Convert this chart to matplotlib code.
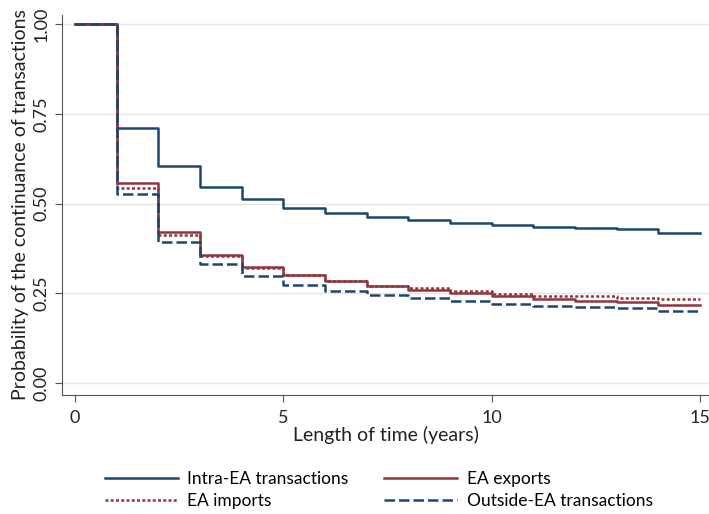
import numpy as np
import matplotlib.pyplot as plt

plt.rcParams['font.family'] = ['Lato', 'DejaVu Sans']

years = list(range(0, 16))

# survival estimates (value held from year t to t+1)
intra_ea = [1.0, 0.711, 0.605, 0.546, 0.513, 0.489, 0.475, 0.463, 0.454, 0.446,
            0.441, 0.436, 0.433, 0.428, 0.419, 0.419]
ea_exports = [1.0, 0.557, 0.421, 0.357, 0.324, 0.301, 0.284, 0.271, 0.259, 0.251,
              0.242, 0.234, 0.229, 0.225, 0.217, 0.217]
ea_imports = [1.0, 0.542, 0.413, 0.353, 0.321, 0.301, 0.284, 0.271, 0.265, 0.256,
              0.248, 0.244, 0.242, 0.238, 0.233, 0.233]
outside_ea = [1.0, 0.528, 0.392, 0.331, 0.297, 0.274, 0.256, 0.245, 0.236, 0.229,
              0.220, 0.214, 0.211, 0.209, 0.202, 0.202]

navy = '#1a476f'
maroon = '#90353b'

W, H = 709, 514
fig = plt.figure(figsize=(W / 100, H / 100), dpi=100)
# axes box in pixels: x 62..709, y 15..395
ax = fig.add_axes([62 / W, (H - 395) / H, (W - 62) / W, 380 / H])

lw = 1.8
l1, = ax.plot(years, intra_ea, drawstyle='steps-post', color=navy, lw=lw,
              label='Intra-EA transactions')
l2, = ax.plot(years, ea_exports, drawstyle='steps-post', color=maroon, lw=lw,
              label='EA exports')
l3, = ax.plot(years, ea_imports, drawstyle='steps-post', color=maroon, lw=lw,
              ls=(0, (1.2, 0.9)), label='EA imports')
l4, = ax.plot(years, outside_ea, drawstyle='steps-post', color=navy, lw=lw,
              ls=(0, (4.2, 1.6)), label='Outside-EA transactions')

ax.set_xlim(-0.312, 15.216)
ax.set_ylim(-0.033, 1.025)
ax.set_xticks([0, 5, 10, 15])
ax.set_yticks([0, 0.25, 0.5, 0.75, 1.0])
ax.set_yticklabels(['0.00', '0.25', '0.50', '0.75', '1.00'], rotation=90, va='center')
ax.yaxis.grid(True, color='#e4e4e4', lw=1)
ax.set_axisbelow(True)
for s in ['top', 'right']:
    ax.spines[s].set_visible(False)
for s in ['left', 'bottom']:
    ax.spines[s].set_color('#555555')
ax.tick_params(direction='out', length=5, color='#555555', labelsize=13,
               labelcolor='#222222')
ax.tick_params(axis='x', pad=6)
ax.tick_params(axis='y', pad=4)
ax.set_xlabel('Length of time (years)', fontsize=14, labelpad=0, color='#222222')
ax.set_ylabel('Probability of the continuance of transactions', fontsize=14,
              labelpad=3, color='#222222')

fig.legend(handles=[l1, l3, l2, l4], ncol=2, frameon=False, fontsize=12.5,
           loc='upper left', bbox_to_anchor=(105 / W, (H - 471) / H),
           borderpad=0, borderaxespad=0, handlelength=4.2, handletextpad=0.55,
           columnspacing=2.05, labelspacing=0.35)

fig.savefig('out.png', dpi=100)
